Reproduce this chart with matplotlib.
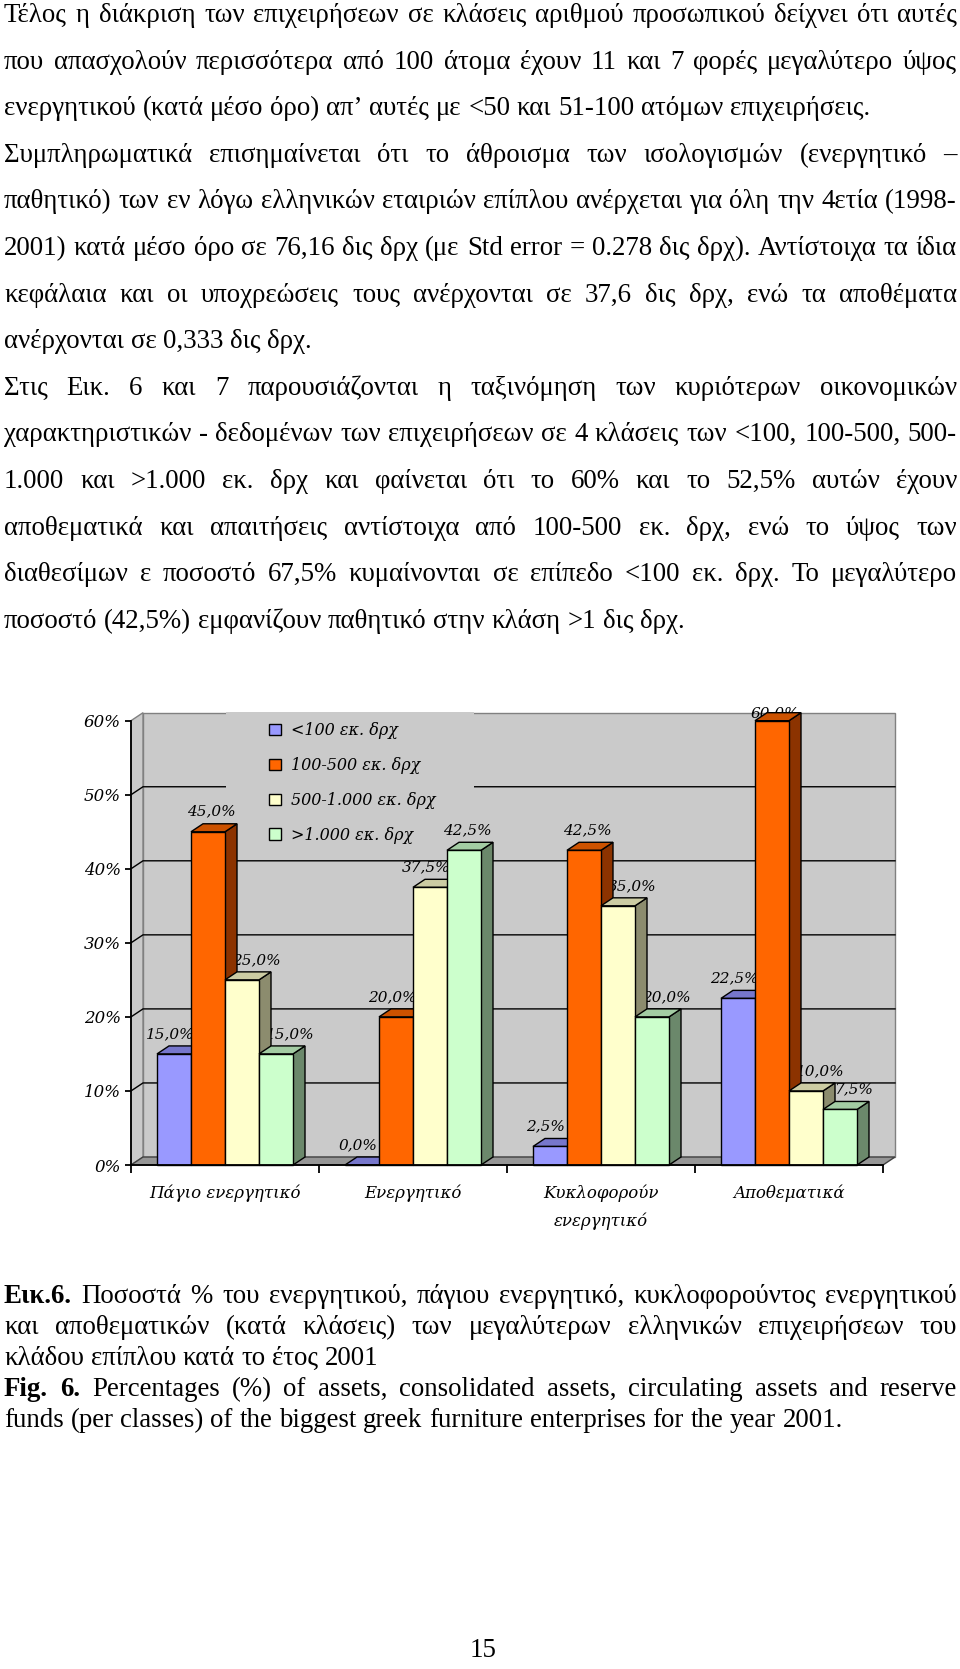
import matplotlib
matplotlib.use("Agg")
import matplotlib.pyplot as plt
from matplotlib.patches import Polygon, Rectangle, Patch

W, H = 960, 1669
SERIF = ["Liberation Serif", "DejaVu Serif"]
CHART_FONT = dict(family="DejaVu Serif", style="italic", size=12)
LABEL_FONT = dict(family="DejaVu Serif", style="italic", size=11)
LEGEND_FONT = dict(family="DejaVu Serif", style="italic", size=11.5)
TEXT_SIZE = 19.4

# ---- chart data ----
categories = ["Πάγιο ενεργητικό", "Ενεργητικό", "Κυκλοφορούν\nενεργητικό", "Αποθεματικά"]
series_names = ["<100 εκ. δρχ", "100-500 εκ. δρχ", "500-1.000 εκ. δρχ", ">1.000 εκ. δρχ"]
lt100 = [15.0, 0.0, 2.5, 22.5]
s100_500 = [45.0, 20.0, 42.5, 60.0]
s500_1000 = [25.0, 37.5, 35.0, 10.0]
gt1000 = [15.0, 42.5, 20.0, 7.5]
y_ticks = [0, 10, 20, 30, 40, 50, 60]

front_colors = ["#9999FF", "#FF6600", "#FFFFCC", "#CCFFCC"]
top_colors = ["#7777CC", "#CC5200", "#CCCCA3", "#A3CCA3"]
side_colors = ["#5C5C99", "#8C3300", "#8C8C6E", "#6B886B"]
wall_color = "#CACACA"
floor_color = "#969696"

# ---- page text ----
body_lines = [
    ("Τέλος η διάκριση των επιχειρήσεων σε κλάσεις αριθμού προσωπικού δείχνει ότι αυτές", True),
    ("που απασχολούν περισσότερα από 100 άτομα έχουν 11 και 7 φορές μεγαλύτερο ύψος", True),
    ("ενεργητικού (κατά μέσο όρο) απ’ αυτές με <50 και 51-100 ατόμων επιχειρήσεις.", False),
    ("Συμπληρωματικά επισημαίνεται ότι το άθροισμα των ισολογισμών (ενεργητικό –", True),
    ("παθητικό) των εν λόγω ελληνικών εταιριών επίπλου ανέρχεται για όλη την 4ετία (1998-", True),
    ("2001) κατά μέσο όρο σε 76,16 δις δρχ (με Std error = 0.278 δις δρχ). Αντίστοιχα τα ίδια", True),
    ("κεφάλαια και οι υποχρεώσεις τους ανέρχονται σε 37,6 δις δρχ, ενώ τα αποθέματα", True),
    ("ανέρχονται σε 0,333 δις δρχ.", False),
    ("Στις Εικ. 6 και 7 παρουσιάζονται η ταξινόμηση των κυριότερων οικονομικών", True),
    ("χαρακτηριστικών - δεδομένων των επιχειρήσεων σε 4 κλάσεις των <100, 100-500, 500-", True),
    ("1.000 και >1.000 εκ. δρχ και φαίνεται ότι το 60% και το 52,5% αυτών έχουν", True),
    ("αποθεματικά και απαιτήσεις αντίστοιχα από 100-500 εκ. δρχ, ενώ το ύψος των", True),
    ("διαθεσίμων ε ποσοστό 67,5% κυμαίνονται σε επίπεδο <100 εκ. δρχ. Το μεγαλύτερο", True),
    ("ποσοστό (42,5%) εμφανίζουν παθητικό στην κλάση >1 δις δρχ.", False),
]
caption_lines = [
    ("Εικ.6.", "Ποσοστά % του ενεργητικού, πάγιου ενεργητικό, κυκλοφορούντος ενεργητικού", True),
    ("", "και αποθεματικών (κατά κλάσεις) των μεγαλύτερων ελληνικών επιχειρήσεων του", True),
    ("", "κλάδου επίπλου κατά το έτος 2001", False),
    ("Fig. 6.", "Percentages (%) of assets, consolidated assets, circulating assets and reserve", True),
    ("", "funds (per classes) of the biggest greek furniture enterprises for the year 2001.", False),
]
page_number = "15"

fig = plt.figure(figsize=(W / 100, H / 100), dpi=100)
renderer = fig.canvas.get_renderer()


def text_width(s, size, weight):
    t = fig.text(0, 0, s, fontsize=size, fontweight=weight, family=SERIF)
    w = t.get_window_extent(renderer).width
    t.remove()
    return w


def put_line(words, baseline, size, justify, x0=4, x1=957):
    widths = [text_width(w, size, wt) for w, wt in words]
    if justify and len(words) > 1:
        gap = (x1 - x0 - sum(widths)) / (len(words) - 1)
    else:
        gap = text_width("a a", size, "normal") - text_width("aa", size, "normal")
    x = x0
    for (w, wt), ww in zip(words, widths):
        fig.text(x / W, 1 - baseline / H, w, fontsize=size, fontweight=wt,
                 family=SERIF, ha="left", va="baseline")
        x += ww + gap


for i, (line, just) in enumerate(body_lines):
    put_line([(w, "normal") for w in line.split()], 22 + 46.6 * i, TEXT_SIZE, just)

for i, (bold, line, just) in enumerate(caption_lines):
    words = [(w, "bold") for w in bold.split()] + [(w, "normal") for w in line.split()]
    put_line(words, 1303 + 31 * i, TEXT_SIZE, just)

fig.text(483 / W, 1 - 1657 / H, page_number, fontsize=TEXT_SIZE, family=SERIF,
         ha="center", va="baseline")

# ---- chart ----
# axes placed so that 0..4 categories span px 131..883 and 0..60% span px 1165..720.7
ux, uy = 188.0, 7.405
xlo, xhi, ylo, yhi = -0.2, 4.2, -3, 62
ax = fig.add_axes([(131 + xlo * ux) / W, (H - (1165 - ylo * uy)) / H,
                   (xhi - xlo) * ux / W, (yhi - ylo) * uy / H])
ax.set_xlim(xlo, xhi)
ax.set_ylim(ylo, yhi)
ax.patch.set_visible(False)

dx, dy = 12 / ux, 8 / uy
ymax = y_ticks[-1]
ncat = len(categories)

# walls and floor
ax.add_patch(Polygon([(dx, dy), (ncat + dx, dy), (ncat + dx, ymax + dy), (dx, ymax + dy)],
                     facecolor=wall_color, edgecolor="#808080", lw=1, zorder=0.5))
ax.add_patch(Polygon([(0, 0), (dx, dy), (dx, ymax + dy), (0, ymax)],
                     facecolor=wall_color, edgecolor="#808080", lw=1, zorder=0.5))
ax.add_patch(Polygon([(0, 0), (ncat, 0), (ncat + dx, dy), (dx, dy)],
                     facecolor=floor_color, edgecolor="#404040", lw=1, zorder=0.6))

for v in y_ticks[1:-1]:
    ax.plot([0, dx, ncat + dx], [v, v + dy, v + dy], color="black", lw=1.0, zorder=1)

# legend background hides the gridlines behind it
ax.add_patch(Rectangle((0.505, 42.3), 1.32, ymax + dy + 0.1 - 42.3,
                       facecolor=wall_color, edgecolor="none", zorder=1.5))

values = [lt100, s100_500, s500_1000, gt1000]
nser = len(values)
bw = 34 / ux
off = (1 - nser * bw) / 2
for i in range(ncat):
    for j in range(nser):
        v = values[j][i]
        x = i + off + j * bw
        ax.add_patch(Polygon([(x + bw, 0), (x + bw + dx, dy), (x + bw + dx, v + dy), (x + bw, v)],
                             facecolor=side_colors[j], edgecolor="black", lw=1, zorder=3))
        ax.add_patch(Polygon([(x, v), (x + dx, v + dy), (x + bw + dx, v + dy), (x + bw, v)],
                             facecolor=top_colors[j], edgecolor="black", lw=1, zorder=3))
        ax.add_patch(Rectangle((x, 0), bw, v, facecolor=front_colors[j],
                               edgecolor="black", lw=1, zorder=3))
        # nudge the label away from a taller neighbour, as in the original
        shift = 3
        if j > 0 and values[j - 1][i] > v:
            shift = 14
        elif j < nser - 1 and values[j + 1][i] > v:
            shift = -4
        lab = f"{v:.1f}%".replace(".", ",")
        ax.text(x + bw / 2 + shift / ux, min(v + 2.7, ymax + 1.0), lab,
                ha="center", va="center", zorder=2, **LABEL_FONT)

for s in ["top", "right"]:
    ax.spines[s].set_visible(False)
ax.spines["left"].set_position(("data", 0))
ax.spines["bottom"].set_position(("data", 0))
ax.spines["left"].set_bounds(0, ymax)
ax.spines["bottom"].set_bounds(0, ncat)
for s in ["left", "bottom"]:
    ax.spines[s].set_linewidth(1.3)
    ax.spines[s].set_zorder(4)

ax.set_yticks(y_ticks)
ax.set_yticklabels([f"{v}%" for v in y_ticks], **CHART_FONT)
ax.tick_params(axis="y", length=4.5, width=1.3, pad=3)
ax.set_xticks(range(ncat + 1))
ax.set_xticklabels([])
ax.tick_params(axis="x", which="major", length=6, width=1.3)
ax.set_xticks([i + 0.5 for i in range(ncat)], minor=True)
ax.set_xticklabels(categories, minor=True, linespacing=1.75, **CHART_FONT)
ax.tick_params(axis="x", which="minor", length=0, pad=14)

handles = [Patch(facecolor=c, edgecolor="black", lw=1) for c in front_colors]
ax.legend(handles, series_names, loc="upper left", bbox_to_anchor=(0.734, 59.8),
          bbox_transform=ax.transData, frameon=False, prop=LEGEND_FONT,
          handlelength=0.75, handleheight=0.75, handletextpad=0.6, labelspacing=1.12,
          borderpad=0, borderaxespad=0)

fig.savefig("out.png", dpi=100)
